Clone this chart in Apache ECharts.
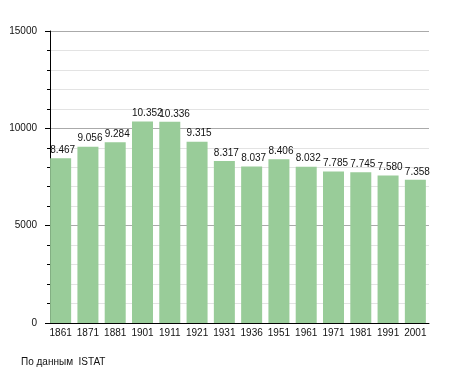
<!DOCTYPE html>
<html>
<head>
<meta charset="utf-8">
<script src="https://cdn.jsdelivr.net/npm/echarts@6/dist/echarts.min.js"></script>
<style>
html,body{margin:0;padding:0;background:#fff;}
#c{width:455px;height:373px;}
</style>
</head>
<body>
<div id="c"></div>
<script>
const years = ['1861','1871','1881','1901','1911','1921','1931','1936','1951','1961','1971','1981','1991','2001'];
const population = [8467, 9056, 9284, 10352, 10336, 9315, 8317, 8037, 8406, 8032, 7785, 7745, 7580, 7358];
const yTicks = [0, 5000, 10000, 15000];
const sourceNote = 'По данным  ISTAT';

const font = 'Liberation Sans, Arial, sans-serif';
function fmt(v){ return String(v).replace(/\B(?=(\d{3})+(?!\d))/g, '.'); }

const chart = echarts.init(document.getElementById('c'), null, {renderer:'canvas'});
chart.setOption({
  animation:false,
  backgroundColor:'#fff',
  textStyle:{fontFamily:font},
  grid:{left:47, right:26, top:31, bottom:50, containLabel:false},
  graphic:[{type:'text', left:21, top:357, style:{text:sourceNote, font:'10px ' + font, fill:'#111'}}],
  xAxis:{
    type:'category', data:years,
    axisLine:{lineStyle:{color:'#000', width:1}},
    axisTick:{show:false},
    axisLabel:{color:'#111', fontSize:10, fontFamily:font, margin:5, interval:0}
  },
  yAxis:{
    type:'value', min:yTicks[0], max:yTicks[yTicks.length-1], interval:5000, offset:-3,
    axisLine:{show:true, lineStyle:{color:'#000', width:1}},
    axisTick:{show:true, length:5, lineStyle:{color:'#000'}},
    minorTick:{show:true, splitNumber:5, length:3, lineStyle:{color:'#000'}},
    axisLabel:{color:'#111', fontSize:10, fontFamily:font, margin:13, formatter:v=>String(v)},
    splitLine:{show:true, lineStyle:{color:'#aaaaaa', width:1}},
    minorSplitLine:{show:true, lineStyle:{color:'#e3e3e3', width:1}}
  },
  series:[{
    type:'bar', data:population, barWidth:21,
    itemStyle:{color:'#99cc99'},
    label:{show:true, position:[0,-3], align:'left', verticalAlign:'bottom',
      formatter:p=>fmt(p.value), color:'#111', fontSize:10, fontFamily:font}
  }]
});
</script>
</body>
</html>
